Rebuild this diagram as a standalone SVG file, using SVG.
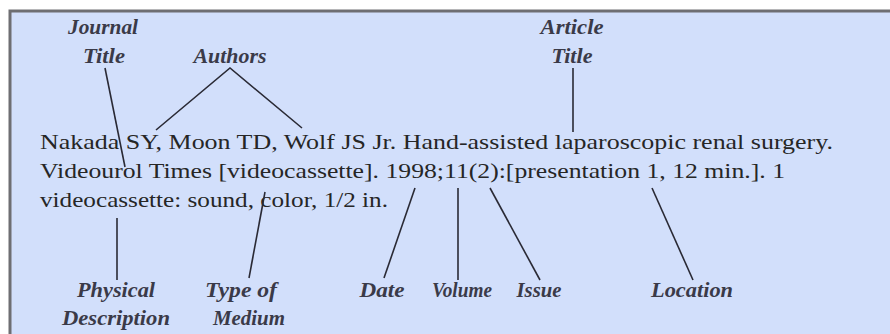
<svg xmlns="http://www.w3.org/2000/svg" width="890" height="334" viewBox="0 0 890 334">
<style>
.main{font-size:22px;fill:#262626}
.lbl{font-size:21px;font-style:italic;font-weight:bold;fill:#3a3a48;text-anchor:middle}
.ln{stroke:#2a2a35;stroke-width:1.6;fill:none}
</style>
<rect x="0" y="0" width="890" height="334" fill="#ffffff"/>
<rect x="10" y="11" width="882" height="330" fill="#d2dffb" stroke="#6e6e72" stroke-width="3"/>
<g font-family="'Liberation Serif', 'DejaVu Serif', serif">
<g id="citation">
<text class="main" x="40" y="149" textLength="793" lengthAdjust="spacingAndGlyphs">Nakada SY, Moon TD, Wolf JS Jr. Hand-assisted laparoscopic renal surgery.</text>
<text class="main" x="40" y="178" textLength="745" lengthAdjust="spacingAndGlyphs">Videourol Times [videocassette]. 1998;11(2):[presentation 1, 12 min.]. 1</text>
<text class="main" x="40" y="207" textLength="348" lengthAdjust="spacingAndGlyphs">videocassette: sound, color, 1/2 in.</text>
</g>
<g id="journal-title"><text class="lbl" x="103" y="34" textLength="70" lengthAdjust="spacingAndGlyphs">Journal</text><text class="lbl" x="104" y="63" textLength="42" lengthAdjust="spacingAndGlyphs">Title</text></g>
<g id="authors"><text class="lbl" x="230" y="63" textLength="73" lengthAdjust="spacingAndGlyphs">Authors</text></g>
<g id="article-title"><text class="lbl" x="572" y="34" textLength="63" lengthAdjust="spacingAndGlyphs">Article</text><text class="lbl" x="572" y="63" textLength="41" lengthAdjust="spacingAndGlyphs">Title</text></g>
<g id="physical-description"><text class="lbl" x="116" y="297" textLength="78" lengthAdjust="spacingAndGlyphs">Physical</text><text class="lbl" x="116" y="325" textLength="108" lengthAdjust="spacingAndGlyphs">Description</text></g>
<g id="type-of-medium"><text class="lbl" x="241" y="297" textLength="72" lengthAdjust="spacingAndGlyphs">Type of</text><text class="lbl" x="249" y="325" textLength="72" lengthAdjust="spacingAndGlyphs">Medium</text></g>
<g id="date"><text class="lbl" x="382" y="297" textLength="45" lengthAdjust="spacingAndGlyphs">Date</text></g>
<g id="volume"><text class="lbl" x="462" y="297" textLength="60" lengthAdjust="spacingAndGlyphs">Volume</text></g>
<g id="issue"><text class="lbl" x="539" y="297" textLength="45" lengthAdjust="spacingAndGlyphs">Issue</text></g>
<g id="location"><text class="lbl" x="692" y="297" textLength="82" lengthAdjust="spacingAndGlyphs">Location</text></g>
</g>
<g id="connectors" class="ln">
<line x1="105" y1="68" x2="125" y2="167"/>
<polyline points="156,130 230,68 302,128"/>
<line x1="573" y1="68" x2="573" y2="132"/>
<line x1="117" y1="218" x2="117" y2="280"/>
<line x1="265" y1="192" x2="249" y2="278"/>
<line x1="415" y1="188" x2="384" y2="278"/>
<line x1="458" y1="188" x2="458" y2="280"/>
<line x1="490" y1="188" x2="540" y2="280"/>
<line x1="652" y1="188" x2="693" y2="280"/>
</g>
</svg>
